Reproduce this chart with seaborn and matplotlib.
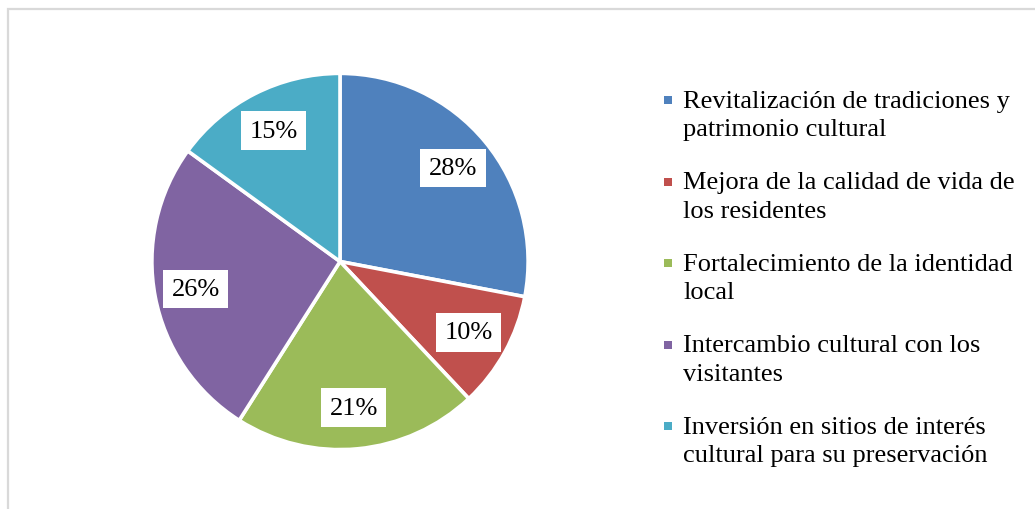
import matplotlib
matplotlib.use("Agg")
import matplotlib.pyplot as plt
from matplotlib.patches import Rectangle
import seaborn as sns

categories = [
    "Revitalización de tradiciones y\npatrimonio cultural",
    "Mejora de la calidad de vida de\nlos residentes",
    "Fortalecimiento de la identidad\nlocal",
    "Intercambio cultural con los\nvisitantes",
    "Inversión en sitios de interés\ncultural para su preservación",
]
values = [28, 10, 21, 26, 15]
colors = ["#4F81BD", "#C0504D", "#9BBB59", "#8064A2", "#4BACC6"]

sns.set_theme(style="white")
plt.rcParams["font.family"] = ["Liberation Serif", "DejaVu Serif"]
palette = sns.color_palette(colors)

W, H = 1035, 510
fig = plt.figure(figsize=(W / 100, H / 100), dpi=100)
fig.patch.set_facecolor("white")

# outer chart border
fig.patches.append(Rectangle((8 / W, 0 - 0.05), 1.1, 1 - 10 / H + 0.05,
                             transform=fig.transFigure, fill=False,
                             edgecolor="#D9D9D9", linewidth=1.6))

cx, cy, r = 340, 262.5, 190
ax = fig.add_axes([(cx - r) / W, 1 - (cy + r) / H, 2 * r / W, 2 * r / H])
wedges, texts, autotexts = ax.pie(
    values, colors=palette, startangle=90, counterclock=False,
    autopct=lambda p: f"{p:.0f}%", pctdistance=0.78, radius=1,
    wedgeprops=dict(edgecolor="white", linewidth=2.6),
    textprops=dict(fontsize=19, color="black"),
)
for t in autotexts:
    t.set_bbox(dict(boxstyle="square,pad=0.32", facecolor="white", edgecolor="none"))
ax.set_xlim(-1.01, 1.01)
ax.set_ylim(-1.01, 1.01)
ax.set_aspect("equal")
ax.axis("off")

# legend drawn manually (marker aligned with first line)
y0 = 101
step = 81.5
for i, (lab, col) in enumerate(zip(categories, palette)):
    y = y0 + i * step
    fig.patches.append(Rectangle((664 / W, 1 - (y + 4) / H), 8 / W, 8 / H,
                                 transform=fig.transFigure, facecolor=col,
                                 edgecolor="none"))
    fig.text(683 / W, 1 - (y - 10) / H, lab, fontsize=19, va="top", ha="left",
             linespacing=1.36, color="black")

fig.savefig("out.png", dpi=100, facecolor="white")
